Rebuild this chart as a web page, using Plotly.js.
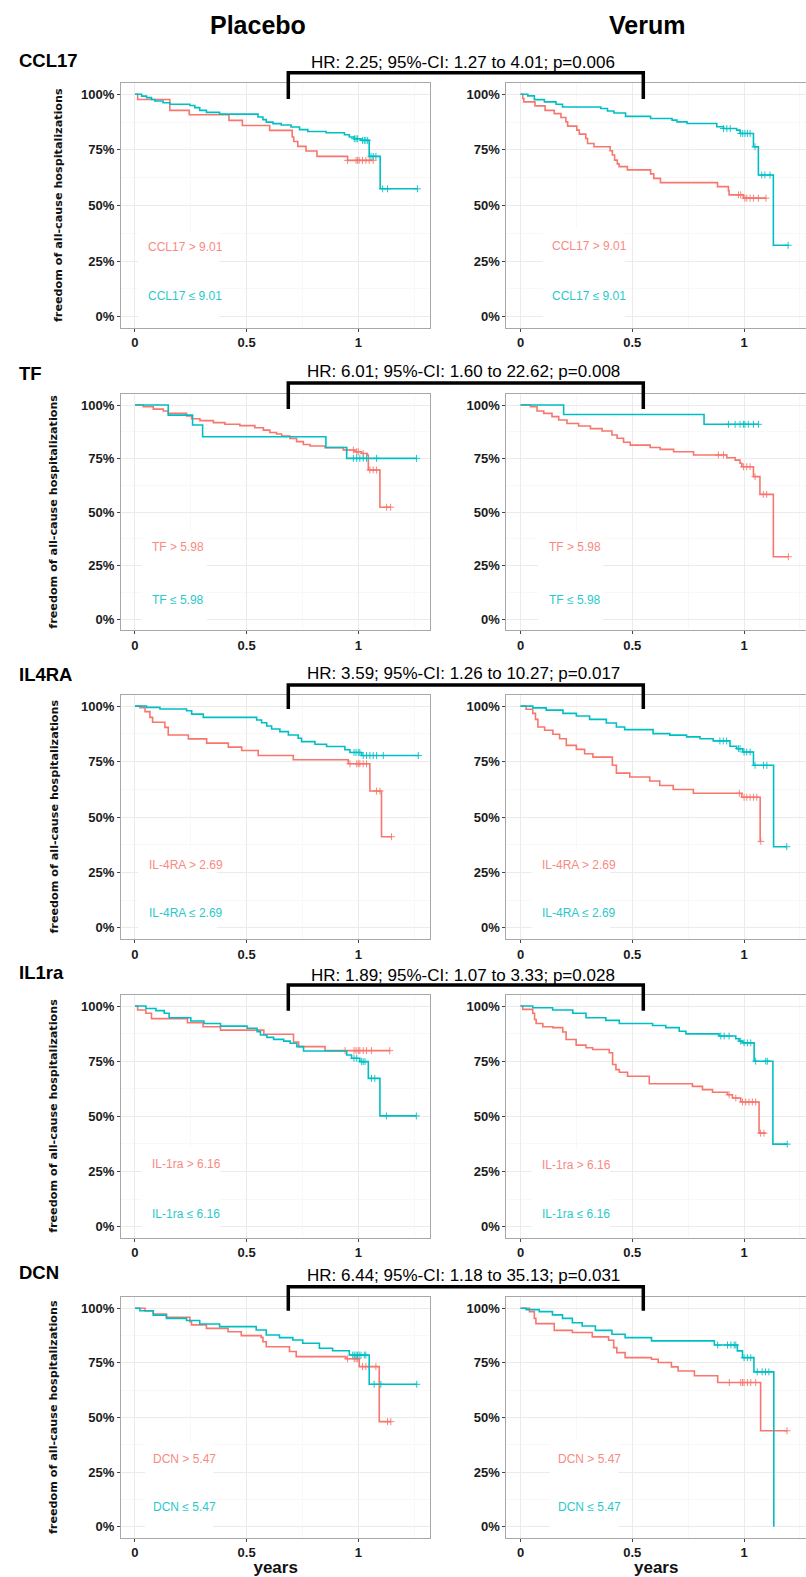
<!DOCTYPE html>
<html><head><meta charset="utf-8">
<script src="https://cdn.plot.ly/plotly-3.0.1.min.js"></script>
<style>html,body{margin:0;padding:0;background:#fff}#chart{width:806px;height:1577px}</style>
</head><body><div id="chart"></div>
<script>
// ---------------- DATA ----------------
const armTitles = ['Placebo', 'Verum'];
const markers = ['CCL17', 'TF', 'IL4RA', 'IL1ra', 'DCN'];
const legendHi = ['CCL17 > 9.01', 'TF > 5.98', 'IL-4RA > 2.69', 'IL-1ra > 6.16', 'DCN > 5.47'];
const legendLo = ['CCL17 \u2264 9.01', 'TF \u2264 5.98', 'IL-4RA \u2264 2.69', 'IL-1ra \u2264 6.16', 'DCN \u2264 5.47'];
const hrTexts = [
  'HR: 2.25; 95%-CI: 1.27 to 4.01; p=0.006',
  'HR: 6.01; 95%-CI: 1.60 to 22.62; p=0.008',
  'HR: 3.59; 95%-CI: 1.26 to 10.27; p=0.017',
  'HR: 1.89; 95%-CI: 1.07 to 3.33; p=0.028',
  'HR: 6.44; 95%-CI: 1.18 to 35.13; p=0.031'
];
const yTitle = 'freedom of all-cause hospitalizations';
const xTitle = 'years';
const yTickVals = [0, 0.25, 0.5, 0.75, 1];
const yTickText = ['0%', '25%', '50%', '75%', '100%'];
const xTickVals = [0, 0.5, 1];
const xTickText = ['0', '0.5', '1'];

// CCL17 placebo
const ccl17PlaHiT = [0, 0.012, 0.156, 0.243, 0.421, 0.481, 0.603, 0.704, 0.711, 0.729, 0.766, 0.815, 0.952, 1.067];
const ccl17PlaHiS = [1, 0.977, 0.928, 0.908, 0.883, 0.860, 0.838, 0.808, 0.788, 0.766, 0.745, 0.721, 0.703, 0.703];
const ccl17PlaHiC = [0.952, 0.99, 0.997, 1.004, 1.019, 1.034, 1.049, 1.067];
const ccl17PlaLoT = [0, 0.030, 0.052, 0.074, 0.089, 0.126, 0.156, 0.246, 0.268, 0.290, 0.320, 0.379, 0.551, 0.573, 0.588, 0.618, 0.655, 0.699, 0.737, 0.774, 0.856, 0.938, 0.960, 0.982, 1.012, 1.049, 1.098, 1.265];
const ccl17PlaLoS = [1, 0.992, 0.985, 0.977, 0.970, 0.962, 0.955, 0.950, 0.940, 0.928, 0.919, 0.911, 0.898, 0.886, 0.875, 0.868, 0.862, 0.853, 0.841, 0.833, 0.827, 0.818, 0.808, 0.800, 0.793, 0.721, 0.575, 0.575];
const ccl17PlaLoC = [0.982, 0.99, 0.997, 1.019, 1.027, 1.034, 1.042, 1.057, 1.067, 1.079, 1.109, 1.131, 1.265];
// CCL17 verum
const ccl17VerHiT = [0, 0.010, 0.015, 0.065, 0.110, 0.151, 0.181, 0.203, 0.211, 0.252, 0.263, 0.292, 0.300, 0.329, 0.401, 0.411, 0.421, 0.433, 0.441, 0.478, 0.582, 0.596, 0.626, 0.881, 0.930, 0.933, 0.997, 1.098];
const ccl17VerHiS = [1, 0.981, 0.966, 0.948, 0.928, 0.913, 0.896, 0.876, 0.857, 0.839, 0.821, 0.801, 0.779, 0.764, 0.746, 0.727, 0.704, 0.687, 0.675, 0.660, 0.642, 0.622, 0.603, 0.585, 0.567, 0.548, 0.533, 0.533];
const ccl17VerHiC = [0.975, 0.985, 1.004, 1.012, 1.027, 1.042, 1.064, 1.098];
const ccl17VerLoT = [0, 0.033, 0.062, 0.107, 0.159, 0.188, 0.359, 0.389, 0.418, 0.470, 0.582, 0.678, 0.700, 0.745, 0.878, 0.908, 0.967, 0.982, 1.042, 1.064, 1.131, 1.197];
const ccl17VerLoS = [1, 0.993, 0.976, 0.966, 0.955, 0.943, 0.936, 0.925, 0.916, 0.901, 0.891, 0.884, 0.876, 0.869, 0.854, 0.846, 0.839, 0.824, 0.764, 0.637, 0.321, 0.321];
const ccl17VerLoC = [0.908, 0.923, 0.938, 0.985, 0.994, 1.004, 1.015, 1.027, 1.049, 1.079, 1.093, 1.116, 1.197];

// TF placebo
const tfPlaHiT = [0, 0.037, 0.082, 0.127, 0.149, 0.231, 0.254, 0.291, 0.351, 0.403, 0.470, 0.537, 0.575, 0.604, 0.634, 0.657, 0.694, 0.724, 0.754, 0.784, 0.851, 0.933, 0.985, 1.015, 1.040, 1.045, 1.097, 1.145];
const tfPlaHiS = [1, 0.992, 0.981, 0.972, 0.961, 0.949, 0.936, 0.927, 0.918, 0.910, 0.904, 0.894, 0.883, 0.872, 0.865, 0.855, 0.844, 0.829, 0.816, 0.809, 0.801, 0.790, 0.782, 0.774, 0.767, 0.697, 0.523, 0.523];
const tfPlaHiC = [0.948, 0.978, 0.993, 1.0, 1.022, 1.052, 1.067, 1.082, 1.127, 1.145];
const tfPlaLoT = [0, 0.149, 0.258, 0.303, 0.855, 0.948, 1.261];
const tfPlaLoS = [1, 0.953, 0.907, 0.852, 0.802, 0.751, 0.751];
const tfPlaLoC = [0.978, 0.993, 1.007, 1.022, 1.037, 1.082, 1.261];
// TF verum
const tfVerHiT = [0, 0.045, 0.074, 0.104, 0.141, 0.171, 0.208, 0.260, 0.313, 0.365, 0.409, 0.432, 0.461, 0.491, 0.580, 0.625, 0.685, 0.774, 0.923, 0.960, 0.982, 0.990, 1.042, 1.071, 1.131, 1.198];
const tfVerHiS = [1, 0.992, 0.972, 0.961, 0.946, 0.930, 0.914, 0.902, 0.890, 0.879, 0.860, 0.845, 0.826, 0.813, 0.802, 0.793, 0.782, 0.767, 0.754, 0.743, 0.728, 0.712, 0.666, 0.583, 0.292, 0.292];
const tfVerHiC = [0.885, 0.908, 0.997, 1.012, 1.027, 1.049, 1.086, 1.101, 1.198];
const tfVerLoT = [0, 0.193, 0.821, 1.064];
const tfVerLoS = [1, 0.956, 0.910, 0.910];
const tfVerLoC = [0.930, 0.960, 0.982, 0.997, 1.004, 1.019, 1.042, 1.064];

// IL4RA placebo
const il4raPlaHiT = [0, 0.022, 0.045, 0.067, 0.079, 0.134, 0.149, 0.239, 0.321, 0.418, 0.478, 0.552, 0.709, 0.955, 1.052, 1.104, 1.149];
const il4raPlaHiS = [1, 0.993, 0.975, 0.949, 0.927, 0.904, 0.870, 0.852, 0.833, 0.815, 0.800, 0.777, 0.758, 0.740, 0.617, 0.411, 0.411];
const il4raPlaHiC = [0.963, 0.993, 1.0, 1.007, 1.022, 1.037, 1.082, 1.097, 1.149];
const il4raPlaLoT = [0, 0.052, 0.112, 0.231, 0.254, 0.306, 0.545, 0.567, 0.590, 0.612, 0.649, 0.687, 0.731, 0.746, 0.806, 0.858, 0.940, 0.963, 1.015, 1.269];
const il4raPlaLoS = [1, 0.994, 0.987, 0.979, 0.964, 0.949, 0.937, 0.925, 0.910, 0.897, 0.885, 0.870, 0.855, 0.840, 0.828, 0.818, 0.803, 0.791, 0.777, 0.777];
const il4raPlaLoC = [0.981, 0.990, 1.0, 1.007, 1.022, 1.037, 1.052, 1.067, 1.082, 1.112, 1.269];
// IL4RA verum
const il4raVerHiT = [0, 0.025, 0.055, 0.067, 0.078, 0.108, 0.145, 0.175, 0.205, 0.250, 0.287, 0.324, 0.411, 0.429, 0.489, 0.578, 0.623, 0.683, 0.773, 0.990, 1.072, 1.075];
const il4raVerHiS = [1, 0.986, 0.967, 0.940, 0.906, 0.891, 0.873, 0.853, 0.823, 0.805, 0.785, 0.770, 0.733, 0.698, 0.680, 0.662, 0.642, 0.624, 0.607, 0.589, 0.390, 0.390];
const il4raVerHiC = [0.979, 1.0, 1.012, 1.027, 1.042, 1.057, 1.075];
const il4raVerLoT = [0, 0.055, 0.115, 0.190, 0.250, 0.309, 0.384, 0.429, 0.466, 0.593, 0.668, 0.743, 0.803, 0.862, 0.937, 0.967, 0.994, 1.042, 1.132, 1.191];
const il4raVerLoS = [1, 0.992, 0.982, 0.967, 0.955, 0.940, 0.924, 0.906, 0.894, 0.876, 0.869, 0.861, 0.853, 0.843, 0.819, 0.808, 0.793, 0.733, 0.366, 0.366];
const il4raVerLoC = [0.892, 0.907, 0.922, 0.975, 0.982, 1.0, 1.012, 1.027, 1.049, 1.087, 1.102, 1.191];

// IL1ra placebo
const il1raPlaHiT = [0, 0.012, 0.049, 0.074, 0.235, 0.305, 0.383, 0.577, 0.710, 0.733, 0.851, 1.141];
const il1raPlaHiS = [1, 0.982, 0.967, 0.943, 0.924, 0.906, 0.891, 0.872, 0.837, 0.816, 0.798, 0.798];
const il1raPlaHiC = [0.941, 0.981, 0.990, 1.0, 1.007, 1.022, 1.037, 1.059, 1.141];
const il1raPlaLoT = [0, 0.049, 0.094, 0.131, 0.153, 0.250, 0.309, 0.383, 0.502, 0.547, 0.562, 0.591, 0.621, 0.666, 0.695, 0.725, 0.755, 0.948, 0.970, 1.007, 1.045, 1.097, 1.260];
const il1raPlaLoS = [1, 0.989, 0.979, 0.967, 0.947, 0.932, 0.921, 0.909, 0.899, 0.884, 0.869, 0.858, 0.849, 0.841, 0.831, 0.816, 0.796, 0.778, 0.763, 0.748, 0.672, 0.502, 0.502];
const il1raPlaLoC = [0.981, 0.993, 1.015, 1.022, 1.030, 1.059, 1.074, 1.126, 1.260];
// IL1ra verum
const il1raVerHiT = [0, 0.010, 0.055, 0.063, 0.070, 0.100, 0.144, 0.189, 0.204, 0.249, 0.293, 0.323, 0.397, 0.412, 0.427, 0.442, 0.479, 0.576, 0.769, 0.814, 0.859, 0.926, 0.948, 0.985, 1.067, 1.097];
const il1raVerHiS = [1, 0.985, 0.967, 0.939, 0.921, 0.906, 0.902, 0.882, 0.848, 0.823, 0.811, 0.803, 0.788, 0.735, 0.712, 0.700, 0.682, 0.648, 0.636, 0.621, 0.609, 0.598, 0.583, 0.565, 0.424, 0.424];
const il1raVerHiC = [0.933, 0.963, 0.993, 1.007, 1.022, 1.037, 1.052, 1.074, 1.089];
const il1raVerLoT = [0, 0.055, 0.144, 0.234, 0.293, 0.382, 0.442, 0.591, 0.650, 0.710, 0.740, 0.888, 0.963, 0.978, 0.993, 1.045, 1.129, 1.193];
const il1raVerLoS = [1, 0.992, 0.982, 0.967, 0.947, 0.935, 0.921, 0.912, 0.902, 0.886, 0.874, 0.864, 0.852, 0.841, 0.833, 0.750, 0.374, 0.374];
const il1raVerLoC = [0.896, 0.911, 0.933, 0.985, 1.0, 1.015, 1.030, 1.052, 1.097, 1.104, 1.193];

// DCN placebo
const dcnPlaHiT = [0, 0.045, 0.082, 0.141, 0.246, 0.253, 0.320, 0.417, 0.476, 0.565, 0.573, 0.588, 0.692, 0.722, 0.945, 1.004, 1.094, 1.146];
const dcnPlaHiS = [1, 0.988, 0.974, 0.959, 0.939, 0.924, 0.908, 0.893, 0.875, 0.867, 0.847, 0.824, 0.802, 0.779, 0.769, 0.733, 0.481, 0.481];
const dcnPlaHiC = [0.952, 0.982, 0.990, 0.997, 1.019, 1.034, 1.049, 1.079, 1.131, 1.146];
const dcnPlaLoT = [0, 0.022, 0.082, 0.141, 0.231, 0.290, 0.379, 0.543, 0.588, 0.647, 0.707, 0.751, 0.826, 0.885, 0.960, 1.049, 1.262];
const dcnPlaLoS = [1, 0.989, 0.969, 0.954, 0.944, 0.928, 0.916, 0.901, 0.878, 0.866, 0.855, 0.840, 0.817, 0.806, 0.786, 0.652, 0.652];
const dcnPlaLoC = [0.975, 0.982, 0.990, 0.997, 1.004, 1.012, 1.027, 1.034, 1.071, 1.101, 1.262];
// DCN verum
const dcnVerHiT = [0, 0.040, 0.062, 0.069, 0.151, 0.232, 0.321, 0.394, 0.417, 0.431, 0.468, 0.586, 0.616, 0.675, 0.705, 0.778, 0.882, 1.074, 1.192];
const dcnVerHiS = [1, 0.985, 0.954, 0.930, 0.899, 0.889, 0.869, 0.854, 0.820, 0.797, 0.774, 0.767, 0.752, 0.732, 0.713, 0.691, 0.660, 0.439, 0.439];
const dcnVerHiC = [0.934, 0.985, 0.993, 1.0, 1.015, 1.030, 1.052, 1.192];
const dcnVerLoT = [0, 0.025, 0.084, 0.143, 0.188, 0.232, 0.276, 0.335, 0.409, 0.468, 0.586, 0.867, 0.970, 0.993, 1.044, 1.133];
const dcnVerLoS = [1, 0.994, 0.985, 0.970, 0.954, 0.934, 0.919, 0.899, 0.881, 0.866, 0.851, 0.832, 0.805, 0.774, 0.709, 0.0];
const dcnVerLoC = [0.882, 0.926, 0.941, 0.956, 0.963, 1.0, 1.015, 1.030, 1.059, 1.081, 1.096, 1.111];

const curves = [
  [[ccl17PlaHiT, ccl17PlaHiS, ccl17PlaHiC, ccl17PlaLoT, ccl17PlaLoS, ccl17PlaLoC],
   [ccl17VerHiT, ccl17VerHiS, ccl17VerHiC, ccl17VerLoT, ccl17VerLoS, ccl17VerLoC]],
  [[tfPlaHiT, tfPlaHiS, tfPlaHiC, tfPlaLoT, tfPlaLoS, tfPlaLoC],
   [tfVerHiT, tfVerHiS, tfVerHiC, tfVerLoT, tfVerLoS, tfVerLoC]],
  [[il4raPlaHiT, il4raPlaHiS, il4raPlaHiC, il4raPlaLoT, il4raPlaLoS, il4raPlaLoC],
   [il4raVerHiT, il4raVerHiS, il4raVerHiC, il4raVerLoT, il4raVerLoS, il4raVerLoC]],
  [[il1raPlaHiT, il1raPlaHiS, il1raPlaHiC, il1raPlaLoT, il1raPlaLoS, il1raPlaLoC],
   [il1raVerHiT, il1raVerHiS, il1raVerHiC, il1raVerLoT, il1raVerLoS, il1raVerLoC]],
  [[dcnPlaHiT, dcnPlaHiS, dcnPlaHiC, dcnPlaLoT, dcnPlaLoS, dcnPlaLoC],
   [dcnVerHiT, dcnVerHiS, dcnVerHiC, dcnVerLoT, dcnVerLoS, dcnVerLoC]]
];

// ---------------- LAYOUT GEOMETRY (pixels) ----------------
const W = 806, H = 1577;
const FONT = 'Liberation Sans, Arial, sans-serif';
const RED = '#F8766D', CYAN = '#00BFC4';
const colGeom = [
  {L: 120.9, R: 430.4, r: [-0.063, 1.323]},
  {L: 506.4, R: 806, r: [-0.063, 1.277]}
];
const rowGeom = [
  {T: 83.2, B: 327.8, hrY: 62.7, brY: 72.7, brB: 99, labY: 60, ytX: 58.5},
  {T: 394.3, B: 630, hrY: 372, brY: 383, brB: 409, labY: 373, ytX: 53.5},
  {T: 695, B: 939, hrY: 673, brY: 685, brB: 709, labY: 675, ytX: 53.5},
  {T: 995, B: 1237.7, hrY: 975, brY: 985, brB: 1010.7, labY: 972, ytX: 53.5},
  {T: 1297.4, B: 1537.6, hrY: 1275, brY: 1286.7, brB: 1310.7, labY: 1272, ytX: 53.5}
];
// legend text left x, y of first / second line, box x0, x1, top  [row][col]
const legGeom = [
  [[146, 246.7, 296.5, 138, 219.3, 231.7], [550, 245.7, 296, 542.7, 625, 228.3]],
  [[150, 547.3, 600, 141.7, 206.7, 531.7], [546.7, 547.3, 600, 538, 603, 531.7]],
  [[146.7, 865, 912.7, 138, 216.7, 850], [540, 865, 912.7, 531.7, 610, 850]],
  [[150, 1164.3, 1214, 141.7, 220, 1148], [540, 1165, 1214.3, 531.7, 610, 1150]],
  [[151, 1459.3, 1506.7, 145, 213.3, 1443.3], [556, 1459.3, 1506.7, 550, 618.3, 1440]]
];
const bracketX = [288.3, 643.3];

const px = x => x / W;
const py = y => 1 - y / H;

function survAt(T, S, t) {
  let v = S[0];
  for (let i = 0; i < T.length; i++) { if (T[i] <= t + 1e-9) v = S[i]; }
  return v;
}

const traces = [];
const layout = {
  width: W, height: H, margin: {l: 0, r: 0, t: 0, b: 0},
  paper_bgcolor: '#fff', plot_bgcolor: '#fff', showlegend: false,
  font: {family: FONT, color: '#000'},
  annotations: [], shapes: []
};

let n = 0;
for (let r = 0; r < 5; r++) {
  const rg = rowGeom[r];
  for (let c = 0; c < 2; c++) {
    n++;
    const cg = colGeom[c];
    const xa = 'x' + (n === 1 ? '' : n), ya = 'y' + (n === 1 ? '' : n);
    const xk = 'xaxis' + (n === 1 ? '' : n), yk = 'yaxis' + (n === 1 ? '' : n);
    layout[xk] = {
      domain: [px(cg.L), Math.min(1, px(cg.R))], range: cg.r, anchor: ya,
      tickvals: xTickVals, ticktext: xTickText,
      showgrid: true, gridcolor: '#ebebeb', gridwidth: 1,
      minor: {tickvals: [0.25, 0.75, 1.25], showgrid: true, gridcolor: '#f6f6f6', gridwidth: 0.8},
      showline: true, mirror: true, linecolor: '#a8a8a8', linewidth: 1,
      ticks: 'outside', ticklen: 3, tickcolor: '#444', tickwidth: 1,
      tickfont: {family: FONT, size: 13, color: '#1a1a1a', weight: 'bold'},
      zeroline: false, fixedrange: true
    };
    layout[yk] = {
      domain: [py(rg.B), py(rg.T)], range: [-0.05, 1.05], anchor: xa,
      tickvals: yTickVals, ticktext: yTickText,
      showgrid: true, gridcolor: '#ebebeb', gridwidth: 1,
      minor: {tickvals: [0.125, 0.375, 0.625, 0.875], showgrid: true, gridcolor: '#f6f6f6', gridwidth: 0.8},
      showline: true, mirror: true, linecolor: '#a8a8a8', linewidth: 1,
      ticks: 'outside', ticklen: 3, tickcolor: '#444', tickwidth: 1,
      tickfont: {family: FONT, size: 13, color: '#1a1a1a', weight: 'bold'},
      zeroline: false, fixedrange: true
    };
    if (r === 4) {
      layout[xk].title = {text: xTitle, font: {family: FONT, size: 17, weight: 'bold', color: '#111'}, standoff: 4};
    }

    const d = curves[r][c];
    const groups = [[d[0], d[1], d[2], RED], [d[3], d[4], d[5], CYAN]];
    groups.forEach(g => {
      traces.push({x: g[0], y: g[1], xaxis: xa, yaxis: ya, type: 'scatter', mode: 'lines',
        line: {shape: 'hv', color: g[3], width: 1.6}, hoverinfo: 'skip'});
      traces.push({x: g[2], y: g[2].map(t => survAt(g[0], g[1], t)), xaxis: xa, yaxis: ya,
        type: 'scatter', mode: 'markers', hoverinfo: 'skip',
        marker: {symbol: 'cross-thin', size: 5, color: g[3], line: {color: g[3], width: 0.9}}});
    });

    // white legend box (data coords converted from pixel geometry)
    const lg = legGeom[r][c];
    const toX = p => cg.r[0] + (p - cg.L) / (cg.R - cg.L) * (cg.r[1] - cg.r[0]);
    const toY = p => -0.05 + (rg.B - p) / (rg.B - rg.T) * 1.1;
    layout.shapes.push({type: 'rect', xref: xa, yref: ya, layer: 'between',
      x0: toX(lg[3]), x1: toX(lg[4]), y0: toY(rg.B - 1), y1: toY(lg[5]),
      fillcolor: '#ffffff', line: {width: 0}});
    layout.annotations.push({xref: 'paper', yref: 'paper', x: px(lg[0]), y: py(lg[1]),
      xanchor: 'left', yanchor: 'middle', showarrow: false, text: legendHi[r],
      font: {family: FONT, size: 12, color: RED}, opacity: 0.85});
    layout.annotations.push({xref: 'paper', yref: 'paper', x: px(lg[0]), y: py(lg[2]),
      xanchor: 'left', yanchor: 'middle', showarrow: false, text: legendLo[r],
      font: {family: FONT, size: 12, color: CYAN}, opacity: 0.85});

    if (c === 0) {
      layout.annotations.push({xref: 'paper', yref: 'paper', x: px(rg.ytX), y: py((rg.T + rg.B) / 2),
        xanchor: 'center', yanchor: 'middle', showarrow: false, textangle: -90, text: yTitle,
        font: {family: 'DejaVu Sans, sans-serif', size: 11.2, weight: 'bold', color: '#111'}});
    }
  }
  // row label, HR text, bracket
  layout.annotations.push({xref: 'paper', yref: 'paper', x: px(17), y: py(rg.labY),
    xanchor: 'left', yanchor: 'middle', showarrow: false, text: markers[r],
    font: {family: FONT, size: 18.5, weight: 'bold', color: '#000'}});
  layout.annotations.push({xref: 'paper', yref: 'paper', x: px(463), y: py(rg.hrY),
    xanchor: 'center', yanchor: 'middle', showarrow: false, text: hrTexts[r],
    font: {family: FONT, size: 17, color: '#000'}});
  layout.shapes.push({type: 'path', xref: 'paper', yref: 'paper', layer: 'above',
    path: `M ${px(bracketX[0])},${py(rg.brB)} L ${px(bracketX[0])},${py(rg.brY)} L ${px(bracketX[1])},${py(rg.brY)} L ${px(bracketX[1])},${py(rg.brB)}`,
    line: {color: '#000', width: 3.5}});
}
// arm titles
layout.annotations.push({xref: 'paper', yref: 'paper', x: px(258), y: py(25), xanchor: 'center', yanchor: 'middle',
  showarrow: false, text: armTitles[0], font: {family: FONT, size: 25, weight: 'bold', color: '#000'}});
layout.annotations.push({xref: 'paper', yref: 'paper', x: px(647), y: py(25), xanchor: 'center', yanchor: 'middle',
  showarrow: false, text: armTitles[1], font: {family: FONT, size: 25, weight: 'bold', color: '#000'}});

Plotly.newPlot('chart', traces, layout, {staticPlot: true, displayModeBar: false});
</script>
</body></html>
